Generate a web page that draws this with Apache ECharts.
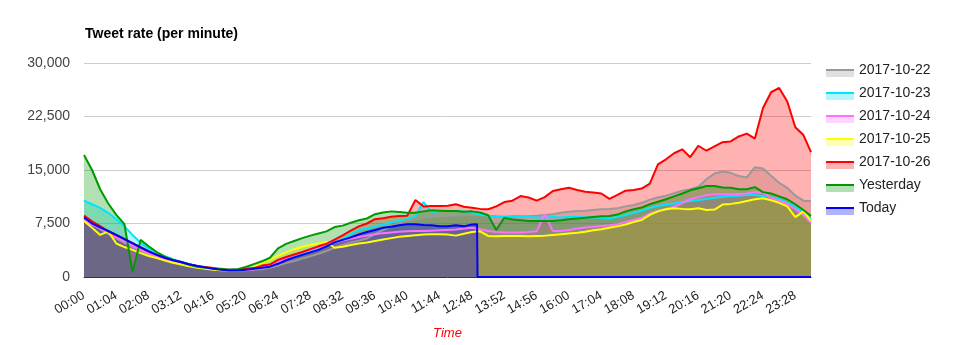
<!DOCTYPE html>
<html>
<head>
<meta charset="utf-8">
<title>Tweet rate (per minute)</title>
<script src="https://cdn.jsdelivr.net/npm/echarts@6/dist/echarts.min.js"></script>
<style>
  html, body { margin: 0; padding: 0; background: #fff; }
  #chart { width: 961px; height: 345px; }
</style>
</head>
<body>
<div id="chart"></div>
<script>
// Minutes since midnight for the shared 16-minute sampling grid (plus 23:59).
const minutes = [];
for (let m = 0; m <= 1424; m += 16) minutes.push(m);
minutes.push(1439);

const seriesNames = ['2017-10-22', '2017-10-23', '2017-10-24', '2017-10-25', '2017-10-26', 'Yesterday', 'Today'];
const seriesColors = ['#999999', '#00e5ff', '#ff70ff', '#ffff00', '#ff0000', '#009900', '#0000ff'];

const day1022 = [
  8100, 7400, 6700, 6000, 5400, 4800, 4200, 3650, 3150, 2750,
  2400, 2150, 1900, 1600, 1400, 1200, 1100, 1000, 950, 900,
  950, 1000, 1100, 1300, 1600, 1950, 2250, 2600, 2900, 3250,
  3650, 4100, 4500, 4850, 5100, 5400, 6000, 6600, 7050, 7500,
  7900, 8100, 8300, 8400, 8550, 8600, 8600, 8650, 8700, 8650,
  8600, 8500, 8450, 8450, 8500, 8500, 8600, 8700, 8800, 9000,
  9150, 9250, 9300, 9400, 9500, 9550, 9650, 9900, 10100, 10400,
  10850, 11150, 11400, 11750, 12100, 12300, 12650, 13700, 14500, 14800,
  14600, 14150, 13950, 15400, 15200, 14200, 13200, 12500, 11400, 10700,
  10650
];

const day1023 = [
  10700, 10200, 9700, 9000, 8100, 7100, 5900, 4800, 4000, 3400,
  2900, 2500, 2150, 1800, 1550, 1350, 1200, 1100, 1050, 1050,
  1100, 1250, 1450, 1650, 2050, 2450, 2800, 3200, 3600, 4000,
  4400, 4850, 5300, 6000, 6600, 6800, 7100, 7350, 7650, 7900,
  8150, 8500, 10500, 9100, 9250, 9250, 9300, 9200, 9000, 8800,
  8600, 8400, 8400, 8550, 8550, 8450, 8350, 8350, 8400, 8350,
  8450, 8450, 8350, 8350, 8300, 8200, 8450, 8700, 9000, 9300,
  9700, 9950, 10150, 10300, 10500, 10650, 10800, 10950, 11100, 11250,
  11350, 11400, 11500, 11500, 11350, 11200, 10900, 10400, 9800, 9000,
  8100
];

const day1024 = [
  7900, 7300, 6900, 6200, 5600, 5000, 4400, 3800, 3300, 2900,
  2550, 2250, 1950, 1650, 1450, 1250, 1100, 1000, 950, 900,
  1000, 1100, 1300, 1600, 2000, 2600, 3100, 3450, 3800, 4150,
  4500, 4850, 5100, 5350, 5600, 5800, 6000, 6150, 6250, 6350,
  6400, 6450, 6450, 6500, 6550, 6600, 6650, 6800, 6900, 6700,
  6450, 6300, 6250, 6250, 6250, 6300, 6400, 8800, 6450, 6450,
  6600, 6800, 6950, 7050, 7150, 7250, 7400, 7700, 8000, 8300,
  8900, 9250, 9550, 9850, 10350, 10900, 11200, 11450, 11600, 11600,
  11600, 11650, 11700, 11900, 11800, 11100, 10700, 10200, 9500, 8700,
  7600
];

const day1025 = [
  7850, 6900, 5900, 6400, 4700, 4200, 3800, 3350, 2950, 2650,
  2300, 2000, 1750, 1500, 1300, 1150, 1000, 950, 900, 900,
  1050, 1350, 1900, 2400, 3000, 3450, 3900, 4250, 4500, 4700,
  4900, 4100, 4250, 4500, 4700, 4850, 5050, 5250, 5450, 5650,
  5750, 5850, 5950, 6000, 6000, 5950, 5800, 6050, 6300, 6400,
  5750, 5700, 5750, 5750, 5750, 5700, 5750, 5800, 5900, 6000,
  6100, 6200, 6350, 6550, 6700, 6900, 7100, 7350, 7700, 8000,
  8700, 9200, 9500, 9650, 9550, 9500, 9650, 9400, 9450, 10150,
  10250, 10400, 10650, 10900, 11050, 10750, 10400, 9900, 8400, 9200,
  7850
];

const day1026 = [
  8600, 7800, 7150, 6400, 5850, 5350, 4750, 4150, 3600, 3100,
  2700, 2400, 2100, 1800, 1550, 1400, 1250, 1100, 1000, 1050,
  1150, 1250, 1600, 1750, 2400, 2800, 3150, 3500, 3900, 4300,
  4650, 5250, 5850, 6500, 7100, 7500, 8100, 8250, 8450, 8550,
  8600, 10800, 9900, 9950, 9950, 10000, 10200, 9850, 9700, 9550,
  9500, 9900, 10500, 10700, 11350, 11150, 10700, 11200, 12050, 12300,
  12500, 12200, 11950, 11850, 11700, 10950, 11500, 12100, 12200, 12400,
  13100, 15800, 16500, 17350, 17900, 16800, 18400, 17700, 18300, 18900,
  19000, 19700, 20100, 19400, 23700, 25900, 26500, 24600, 21000, 19900,
  17500
];

const yesterday = [
  17100, 15000, 12300, 10300, 8700, 7400, 700, 5200, 4300, 3500,
  2850, 2400, 2050, 1700, 1450, 1300, 1200, 1150, 1000, 1100,
  1400, 1800, 2200, 2700, 4000, 4650, 5050, 5450, 5800, 6100,
  6400, 7000, 7200, 7600, 7950, 8200, 8800, 9050, 9200, 9100,
  9000, 9000, 9200, 9350, 9300, 9250, 9250, 9150, 9200, 9050,
  8650, 6600, 8300, 8050, 7950, 7850, 7850, 7850, 7850, 7950,
  8100, 8200, 8300, 8400, 8500, 8550, 8750, 9200, 9500, 9750,
  10200, 10550, 10900, 11300, 11700, 12150, 12450, 12750, 12750, 12550,
  12500, 12300, 12300, 12600, 11900, 11700, 11300, 10900, 10200, 9400,
  8550
];

// Today's feed stops at 12:58, so it carries its own time stamps.
const todayMinutes = [
  0, 16, 32, 48, 64, 80, 96, 112, 128, 144,
  160, 176, 192, 208, 224, 240, 256, 272, 288, 304,
  320, 336, 352, 368, 384, 400, 416, 432, 448, 464,
  480, 496, 512, 528, 544, 560, 576, 592, 608, 624,
  640, 656, 672, 688, 704, 720, 736, 752, 768, 778,
  779, 1439
];
const today = [
  8350, 7500, 6950, 6450, 5900, 5300, 4750, 4150, 3600, 3100,
  2700, 2350, 2100, 1800, 1550, 1350, 1150, 1000, 900, 900,
  1000, 1150, 1300, 1450, 1850, 2350, 2750, 3100, 3450, 3800,
  4300, 4850, 5200, 5550, 5950, 6300, 6600, 6900, 7050, 7250,
  7400, 7400, 7300, 7250, 7100, 7100, 7250, 7100, 7350, 7400,
  0, 0
];

const yTicks = { min: 0, max: 30000, interval: 7500 };
const xTicks = { min: 0, max: 1439, interval: 64 };

const FONT = "'Liberation Sans', Arial, sans-serif";

function pad2(n) { return (n < 10 ? '0' : '') + n; }
function clock(m) { return pad2(Math.floor(m / 60)) + ':' + pad2(m % 60); }
function pairs(xs, ys) { return xs.map((x, i) => [x, ys[i]]); }

const valueSets = [
  pairs(minutes, day1022),
  pairs(minutes, day1023),
  pairs(minutes, day1024),
  pairs(minutes, day1025),
  pairs(minutes, day1026),
  pairs(minutes, yesterday),
  pairs(todayMinutes, today)
];

// All translucent areas go underneath, then every line is stroked on top of them.
const areaSeries = seriesNames.map((name, i) => ({
  name: name,
  type: 'line',
  data: valueSets[i],
  showSymbol: false,
  symbol: 'none',
  color: seriesColors[i],
  lineStyle: { width: 0, opacity: 0 },
  areaStyle: { color: seriesColors[i], opacity: 0.3 },
  z: 2
}));
const lineSeries = seriesNames.map((name, i) => ({
  name: name,
  type: 'line',
  data: valueSets[i],
  showSymbol: false,
  symbol: 'none',
  color: seriesColors[i],
  lineStyle: { width: 2, color: seriesColors[i] },
  z: 3
}));

// Legend on the right: a solid line over a translucent block, then the name.
const legendGraphics = [];
seriesNames.forEach((name, i) => {
  const top = 69 + 23 * i;
  legendGraphics.push({
    type: 'rect', left: 826, top: top,
    shape: { width: 28, height: 2 },
    style: { fill: seriesColors[i] }, silent: true
  });
  legendGraphics.push({
    type: 'rect', left: 826, top: top + 2,
    shape: { width: 28, height: 6 },
    style: { fill: seriesColors[i], opacity: 0.3 }, silent: true
  });
  legendGraphics.push({
    type: 'text', left: 859, top: top - 6,
    style: { text: name, fill: '#222222', font: '14px ' + FONT }, silent: true
  });
});

const chart = echarts.init(document.getElementById('chart'), null, { renderer: 'canvas' });
chart.setOption({
  animation: false,
  backgroundColor: '#ffffff',
  title: {
    text: 'Tweet rate (per minute)',
    left: 80, top: 22,
    textStyle: { fontFamily: FONT, fontSize: 14, fontWeight: 'bold', color: '#000000' }
  },
  grid: { left: 84, right: 150, top: 63, bottom: 67, containLabel: false },
  xAxis: {
    type: 'value',
    min: xTicks.min, max: xTicks.max, interval: xTicks.interval,
    name: 'Time',
    nameLocation: 'middle',
    nameGap: 50,
    nameTextStyle: { fontFamily: FONT, fontSize: 13, fontStyle: 'italic', color: '#ff0000' },
    axisLine: { show: true, lineStyle: { color: '#333333', width: 1 } },
    axisTick: { show: false },
    splitLine: { show: false },
    axisLabel: {
      rotate: 30,
      margin: 10,
      verticalAlign: 'top',
      padding: [0, 4, 0, 0],
      showMaxLabel: false,
      fontFamily: FONT, fontSize: 13, color: '#222222',
      formatter: v => clock(v)
    }
  },
  yAxis: {
    type: 'value',
    min: yTicks.min, max: yTicks.max, interval: yTicks.interval,
    axisLine: { show: false },
    axisTick: { show: false },
    splitLine: { show: true, lineStyle: { color: '#cccccc', width: 1 } },
    axisLabel: {
      margin: 14,
      fontFamily: FONT, fontSize: 14, color: '#444444',
      formatter: v => v.toLocaleString('en-US')
    }
  },
  series: areaSeries.concat(lineSeries),
  graphic: legendGraphics
});
</script>
</body>
</html>
